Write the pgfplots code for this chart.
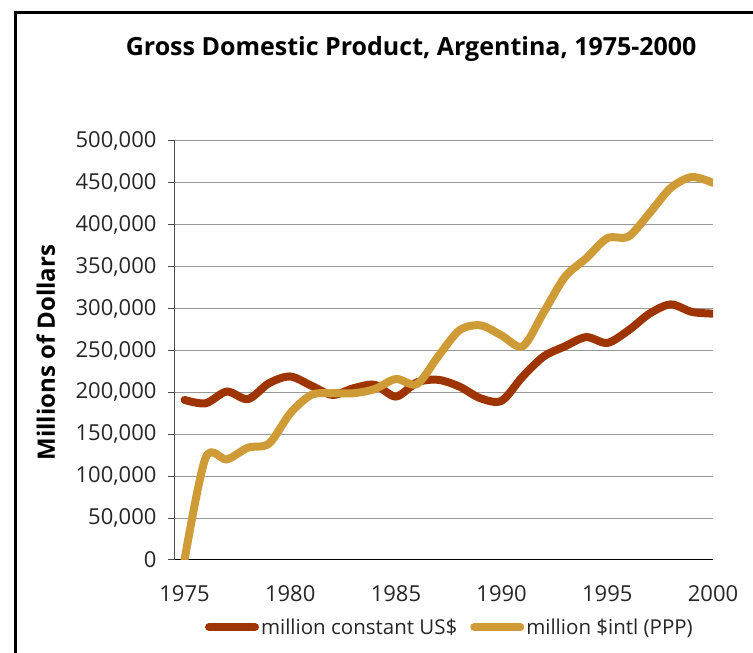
\documentclass[border=0pt]{standalone}
\usepackage{pgfplots}
\pgfplotsset{compat=1.18}
\usepackage{pgfplotstable}
\usepackage{fontspec}
\setmainfont{Open Sans}

\definecolor{gdpusd}{HTML}{9E3500}
\definecolor{gdpppp}{HTML}{CF9B37}

% GDP, millions of dollars
\pgfplotstableread{
year usd ppp
1975 191000 0
1976 187000 122000
1977 201000 120000
1978 192000 134000
1979 211000 139000
1980 219000 175000
1981 208000 197000
1982 197000 199000
1983 205000 199000
1984 209000 204000
1985 195000 216000
1986 212000 210000
1987 215000 243000
1988 207000 274000
1989 193000 280000
1990 190000 268000
1991 219000 255000
1992 243000 296000
1993 255000 338000
1994 266000 360000
1995 259000 384000
1996 274000 386000
1997 294000 414000
1998 305000 444000
1999 296000 457000
2000 294000 450000
}\gdp

\begin{document}
\begin{tikzpicture}
\path[use as bounding box] (0,0) rectangle (753pt,653pt);
\draw[line width=3pt] (15pt,-10pt) -- (15pt,640pt) -- (770pt,640pt);
\begin{axis}[
    at={(175pt,93pt)}, anchor=south west,
    scale only axis, width=538pt, height=419pt,
    xmin=1974.55, xmax=2000,
    ymin=0, ymax=500000,
    xtick={1975,1980,...,2000},
    ytick={0,50000,...,500000},
    axis x line*=bottom, axis y line*=left,
    x axis line style={black, line width=1pt, -},
    y axis line style={black!70, line width=1pt, -},
    xtick style={draw=none},
    ytick style={black!70, line width=1pt},
    tick align=outside, major tick length=7pt,
    ymajorgrids,
    grid style={black!40, line width=1pt},
    scaled y ticks=false,
    xticklabel style={/pgf/number format/1000 sep={}, yshift=-15pt},
    yticklabel style={/pgf/number format/fixed, /pgf/number format/1000 sep={,}, xshift=-8pt},
    /pgf/number format/assume math mode=true,
    tick label style={font=\fontsize{22}{26}\selectfont, text=black!85},
    title={\textbf{Gross Domestic Product, Argentina, 1975-2000}},
    title style={at={(axis description cs:0.439,1.205)}, anchor=center, font=\fontsize{25}{30}\selectfont},
    ylabel={\textbf{Millions of Dollars}},
    ylabel style={at={(axis description cs:-0.24,0.495)}, anchor=center, font=\fontsize{24}{28}\selectfont},
    legend columns=2,
    legend style={at={(axis description cs:0.511,-0.16)}, anchor=center, draw=none,
        font=\fontsize{20.5}{24}\selectfont, text=black!85,
        /tikz/every even column/.style={column sep=11pt}},
    legend image code/.code={\draw[#1, line width=8pt, line cap=round] (0pt,0pt) -- (46pt,0pt);},
]
\addplot[gdpusd, line width=8pt, smooth, line cap=round, line join=round] table[x=year, y=usd] {\gdp};
\addlegendentry{million constant US\$}
\addplot[gdpppp, line width=8pt, smooth, line cap=round, line join=round] table[x=year, y=ppp] {\gdp};
\addlegendentry{million \$intl (PPP)}
\end{axis}
\end{tikzpicture}
\end{document}
